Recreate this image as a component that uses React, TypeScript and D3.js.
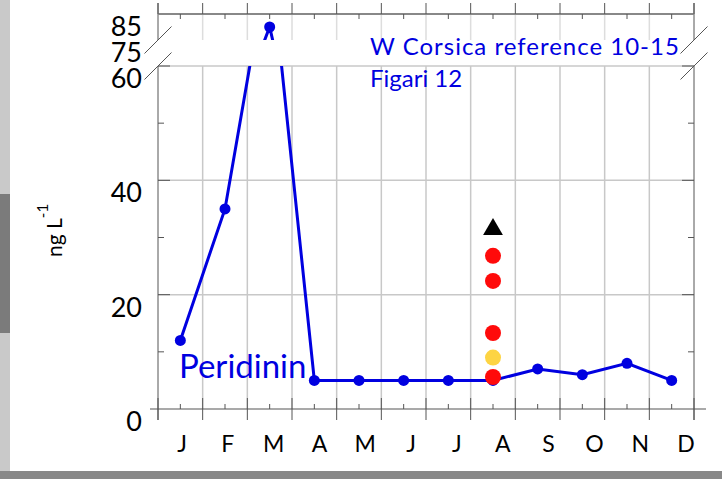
import * as d3 from 'd3';

const MONTHS = ['J', 'F', 'M', 'A', 'M', 'J', 'J', 'A', 'S', 'O', 'N', 'D'];
const PERIDININ = [12, 35, 80, 5, 5, 5, 5, 5, 7, 6, 8, 5];
const AUG_INDEX = 7;
const AUG_TRIANGLE = [31.6];
const AUG_RED = [26.8, 22.4, 13.3, 5.6];
const AUG_YELLOW = [9.0];
const LOW_TICKS = [0, 20, 40, 60];
const LOW_MINOR = [10, 30, 50];
const HIGH_TICKS = [75, 85];

const W = 722;
const H = 479;
const BLUE = '#0000e0';
const RED = '#ff0a0a';
const YELLOW = '#fdd443';
const GRID = '#c8c8c8';
const AXIS = '#555';
const FONT = 'Lato, "Open Sans", sans-serif';

const LEFT = 158;
const RIGHT = 694;
const BREAK_TOP = 40;
const BREAK_BOTTOM = 66;

export default function App() {
  const x = d3.scaleLinear().domain([0, 12]).range([LEFT, RIGHT]);
  const yLow = d3.scaleLinear().domain([0, 60]).range([409, BREAK_BOTTOM]);
  const yHigh = d3.scaleLinear().domain([75, 85]).range([BREAK_TOP, 14]);
  const labelX = d3.scaleLinear().domain([0, 11]).range([182, 686]);

  const monthBounds = d3.range(13);
  const mid = (i: number) => x(i + 0.5);

  const lineLow = d3.line<number>().x((_, i) => mid(i)).y(d => yLow(d));
  const lineHigh = d3.line<number>().x((_, i) => mid(i)).y(d => yHigh(d));

  const y0 = yLow(0);
  const slash = (cx: number, cy: number, k: number) => (
    <line key={`${cx}-${cy}-${k}`} x1={cx - 13.5} y1={cy + 13.5} x2={cx + 13.5} y2={cy - 13.5} stroke="#555" strokeWidth={1} />
  );

  const tri = d3.symbol().type(d3.symbolTriangle).size(170)();

  return (
    <svg width={W} height={H} style={{ position: 'fixed', left: 0, top: 0, background: '#fff' }}>
      <defs>
        <clipPath id="clip-low">
          <rect x={LEFT - 20} y={BREAK_BOTTOM} width={RIGHT - LEFT + 40} height={y0 - BREAK_BOTTOM + 20} />
        </clipPath>
        <clipPath id="clip-high">
          <rect x={LEFT - 20} y={0} width={RIGHT - LEFT + 40} height={BREAK_TOP} />
        </clipPath>
      </defs>

      {/* page frame strips */}
      <rect x={0} y={0} width={W} height={H} fill="#fff" />
      <rect x={0} y={0} width={10} height={471} fill="#c9c9c9" />
      <rect x={0} y={194} width={10} height={139} fill="#7b7b7b" />
      <rect x={0} y={471} width={W} height={8} fill="#888" />

      {/* grid */}
      {monthBounds.slice(1, 12).map(i => (
        <g key={`vg${i}`}>
          <line x1={x(i)} x2={x(i)} y1={BREAK_BOTTOM} y2={y0} stroke={GRID} strokeWidth={1.5} />
          <line x1={x(i)} x2={x(i)} y1={14} y2={BREAK_TOP} stroke="#ddd" strokeWidth={1.5} />
        </g>
      ))}
      {LOW_TICKS.slice(1).map(v => (
        <line key={`hg${v}`} x1={LEFT} x2={RIGHT} y1={yLow(v)} y2={yLow(v)} stroke={GRID} strokeWidth={1.5} />
      ))}

      {/* axes */}
      <line x1={LEFT} x2={LEFT} y1={3} y2={BREAK_TOP} stroke={AXIS} />
      <line x1={LEFT} x2={LEFT} y1={BREAK_BOTTOM} y2={420} stroke={AXIS} />
      <line x1={RIGHT} x2={RIGHT} y1={3} y2={BREAK_TOP} stroke={AXIS} />
      <line x1={RIGHT} x2={RIGHT} y1={BREAK_BOTTOM} y2={420} stroke={AXIS} />
      <line x1={LEFT} x2={RIGHT} y1={14} y2={14} stroke="#888" strokeWidth={2} />
      <line x1={150} x2={706} y1={y0} y2={y0} stroke={AXIS} strokeWidth={1.2} />

      {monthBounds.map(i => (
        <g key={`mt${i}`}>
          <line x1={x(i)} x2={x(i)} y1={398} y2={420} stroke={AXIS} />
          <line x1={x(i)} x2={x(i)} y1={3} y2={14} stroke={AXIS} />
        </g>
      ))}
      {MONTHS.map((_, i) => (
        <g key={`mn${i}`}>
          <line x1={mid(i)} x2={mid(i)} y1={404} y2={y0} stroke={AXIS} />
          <line x1={mid(i)} x2={mid(i)} y1={14} y2={19} stroke={AXIS} />
        </g>
      ))}
      {LOW_TICKS.slice(1).map(v => (
        <g key={`yt${v}`}>
          <line x1={LEFT} x2={LEFT + 12} y1={yLow(v)} y2={yLow(v)} stroke={AXIS} />
          <line x1={RIGHT - 12} x2={RIGHT} y1={yLow(v)} y2={yLow(v)} stroke={AXIS} />
        </g>
      ))}
      {LOW_MINOR.map(v => (
        <g key={`ym${v}`}>
          <line x1={LEFT} x2={LEFT + 6} y1={yLow(v)} y2={yLow(v)} stroke={AXIS} />
          <line x1={RIGHT - 6} x2={RIGHT} y1={yLow(v)} y2={yLow(v)} stroke={AXIS} />
        </g>
      ))}

      {/* break marks */}
      {[LEFT, RIGHT].map(cx => [BREAK_TOP, BREAK_BOTTOM].map((cy, k) => slash(cx, cy, k)))}

      {/* tick labels */}
      <g fontFamily={FONT} fontSize={27} textAnchor="end" fill="#000">
        {LOW_TICKS.map(v => (
          <text key={`yl${v}`} x={142} y={yLow(v) + 22}>{v}</text>
        ))}
        {HIGH_TICKS.map(v => (
          <text key={`yh${v}`} x={142} y={yHigh(v) + 22}>{v}</text>
        ))}
      </g>
      <g fontFamily={FONT} fontSize={23} textAnchor="middle" fill="#000">
        {MONTHS.map((m, i) => (
          <text key={`ml${i}`} x={labelX(i)} y={452}>{m}</text>
        ))}
      </g>

      <text transform="translate(62,257) rotate(-90)" fontFamily={FONT} fontSize={21} fill="#000">
        ng L<tspan fontSize={15} dy={-14}>-1</tspan>
      </text>

      {/* peridinin series, drawn in both panels */}
      <g clipPath="url(#clip-low)">
        <path d={lineLow(PERIDININ) ?? ''} fill="none" stroke={BLUE} strokeWidth={3} />
        {PERIDININ.map((v, i) => (
          <circle key={`pl${i}`} cx={mid(i)} cy={yLow(v)} r={5.5} fill={BLUE} />
        ))}
      </g>
      <g clipPath="url(#clip-high)">
        <path d={lineHigh(PERIDININ) ?? ''} fill="none" stroke={BLUE} strokeWidth={3} />
        {PERIDININ.map((v, i) => (
          <circle key={`ph${i}`} cx={mid(i)} cy={yHigh(v)} r={5.5} fill={BLUE} />
        ))}
      </g>

      {/* August reference observations */}
      {AUG_YELLOW.map((v, i) => (
        <circle key={`ay${i}`} cx={mid(AUG_INDEX)} cy={yLow(v)} r={8} fill={YELLOW} />
      ))}
      {AUG_RED.map((v, i) => (
        <circle key={`ar${i}`} cx={mid(AUG_INDEX)} cy={yLow(v)} r={8} fill={RED} />
      ))}
      {AUG_TRIANGLE.map((v, i) => (
        <path key={`at${i}`} d={tri ?? ''} transform={`translate(${mid(AUG_INDEX)},${yLow(v) + 1})`} fill="#000" />
      ))}

      <g fontFamily={FONT} fill={BLUE}>
        <text x={370} y={55} fontSize={24} letterSpacing={1}>W Corsica reference 10-15</text>
        <text x={370} y={87} fontSize={24}>Figari 12</text>
        <text x={179} y={378} fontSize={33}>Peridinin</text>
      </g>
    </svg>
  );
}
